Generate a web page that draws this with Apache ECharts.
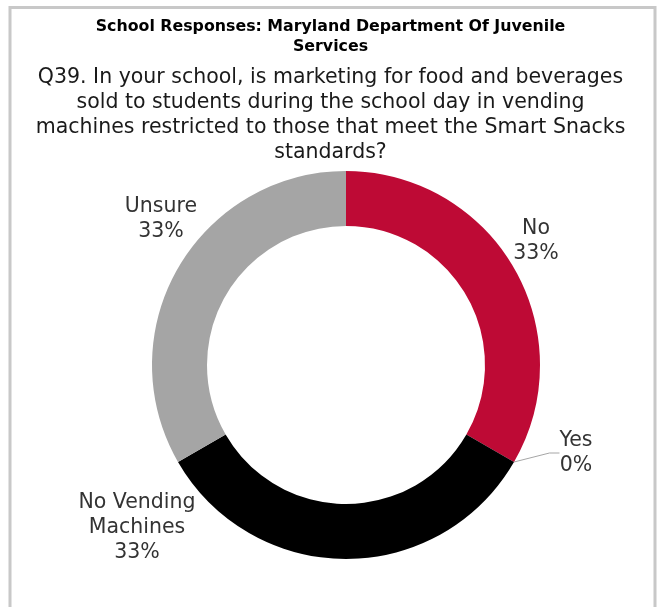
<!DOCTYPE html>
<html>
<head>
<meta charset="utf-8">
<script src="https://cdn.jsdelivr.net/npm/echarts@6/dist/echarts.min.js"></script>
<style>
html,body{margin:0;padding:0;background:#fff;}
#chart{width:661px;height:607px;}
</style>
</head>
<body>
<div id="chart"></div>
<script>
const titleText = "School Responses: Maryland Department Of Juvenile\nServices";
const subtitleText = "Q39. In your school, is marketing for food and beverages\nsold to students during the school day in vending\nmachines restricted to those that meet the Smart Snacks\nstandards?";
const categories = ["No", "Yes", "No Vending\nMachines", "Unsure"];
const values = [1, 0, 1, 1];
const colors = ["#be0a35", "#a5a5a5", "#000000", "#a5a5a5"];

const labelPos = [
  {x: 536, y: 241},
  {x: 576, y: 453},
  {x: 137, y: 528},
  {x: 161, y: 219}
];

const chart = echarts.init(document.getElementById('chart'));
chart.setOption({
  animation: false,
  backgroundColor: '#ffffff',
  graphic: [{
    type: 'rect',
    shape: {x: 10, y: 7.5, width: 645, height: 620},
    style: {fill: 'none', stroke: '#c8c8c8', lineWidth: 3}
  }],
  title: [{
    text: titleText,
    left: 'center',
    top: 12,
    textStyle: {fontFamily: 'DejaVu Sans', fontWeight: 'bold', fontSize: 15.8, lineHeight: 20, color: '#000', align: 'center'}
  }, {
    text: subtitleText,
    left: 'center',
    top: 60,
    textStyle: {fontFamily: 'DejaVu Sans', fontWeight: 'normal', fontSize: 20.5, lineHeight: 25, color: '#1a1a1a', align: 'center'}
  }],
  series: [{
    type: 'pie',
    center: [346, 365],
    radius: [139, 194],
    startAngle: 90,
    clockwise: true,
    avoidLabelOverlap: false,
    stillShowZeroSum: true,
    minShowLabelAngle: 0,
    data: categories.map((c, i) => ({
      name: c,
      value: values[i],
      itemStyle: {color: colors[i]},
      labelLine: {show: i === 1}
    })),
    label: {
      show: true,
      position: 'outside',
      formatter: p => p.name + '\n' + Math.round(p.percent) + '%',
      fontFamily: 'DejaVu Sans',
      fontSize: 20.5,
      lineHeight: 25,
      color: '#333333',
      align: 'center'
    },
    labelLine: {
      show: false,
      length: 10,
      length2: 10,
      lineStyle: {color: '#a6a6a6', width: 1}
    },
    labelLayout: function (params) {
      const p = labelPos[params.dataIndex];
      return {x: p.x, y: p.y, align: 'center', verticalAlign: 'middle'};
    }
  }]
});
</script>
</body>
</html>
